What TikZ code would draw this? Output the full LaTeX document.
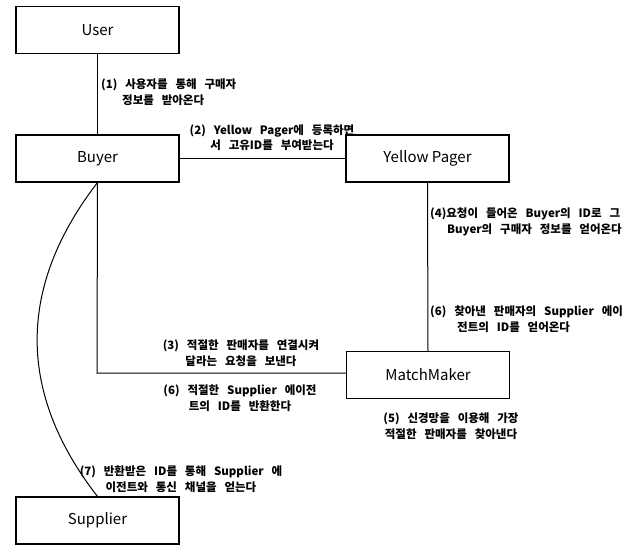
\documentclass[tikz,border=0pt]{standalone}
\usepackage{fontspec}
\setmainfont{Noto Sans CJK KR}
\newfontfamily\lblfont[WordSpace=3.0]{Noto Sans CJK KR}
\begin{document}
\begin{tikzpicture}[x=1pt,y=-1pt,
  agent/.style={draw=black,line width=1.1pt,minimum width=163pt,minimum height=47pt,inner sep=0pt,font=\fontsize{15}{16}\selectfont},
  conn/.style={draw=black,line width=1pt},
  lbl/.style={font=\lblfont\bfseries\fontsize{11.5}{15.5}\selectfont,inner sep=0pt}]
\useasboundingbox (0,0) rectangle (633,552);
\node[agent] (user) at (97.5,30) {User};
\node[agent] (buyer) at (97.5,158.5) {Buyer};
\node[agent] (yp) at (427.5,158.5) {Yellow Pager};
\node[agent] (mm) at (428,375) {MatchMaker};
\node[agent] (sup) at (97.5,520.5) {Supplier};
\coordinate (corner) at (97,373);
\draw[conn] (user.south) -- (buyer.north);
\draw[conn] (buyer.east) -- (yp.west);
\draw[conn] (yp.south) -- (mm.north);
\draw[conn] (buyer.south) -- (corner) -- (corner -| mm.west);
\draw[conn] (buyer.south) .. controls (17,287) and (17,393) .. (sup.north);
\node[lbl,anchor=west,align=left] (l1) at (101,92) {(1) 사용자를 통해 구매자\\\hspace*{21pt}정보를 받아온다};
\node[lbl,align=center] (l2) at (272,137.5) {(2) Yellow Pager에 등록하면\\서 고유ID를 부여받는다};
\node[lbl,anchor=west,align=left] (l4) at (430,222) {(4)요청이 들어온 Buyer의 ID로 그\\\hspace*{17pt}Buyer의 구매자 정보를 얻어온다};
\node[lbl,anchor=west,align=left] (l6r) at (430,319) {(6) 찾아낸 판매자의 Supplier 에이\\\hspace*{27pt}전트의 ID를 얻어온다};
\node[lbl,align=center] (l3) at (241,353) {(3) 적절한 판매자를 연결시켜\\달라는 요청을 보낸다};
\node[lbl,align=center] (l6l) at (240,398) {(6) 적절한 Supplier 에이전\\트의 ID를 반환한다};
\node[lbl,align=center] (l5) at (451,426) {(5) 신경망을 이용해 가장\\적절한 판매자를 찾아낸다};
\node[lbl,align=center] (l7) at (181,479) {(7) 반환받은 ID를 통해 Supplier 에\\이전트와 통신 채널을 얻는다};
\end{tikzpicture}
\end{document}
